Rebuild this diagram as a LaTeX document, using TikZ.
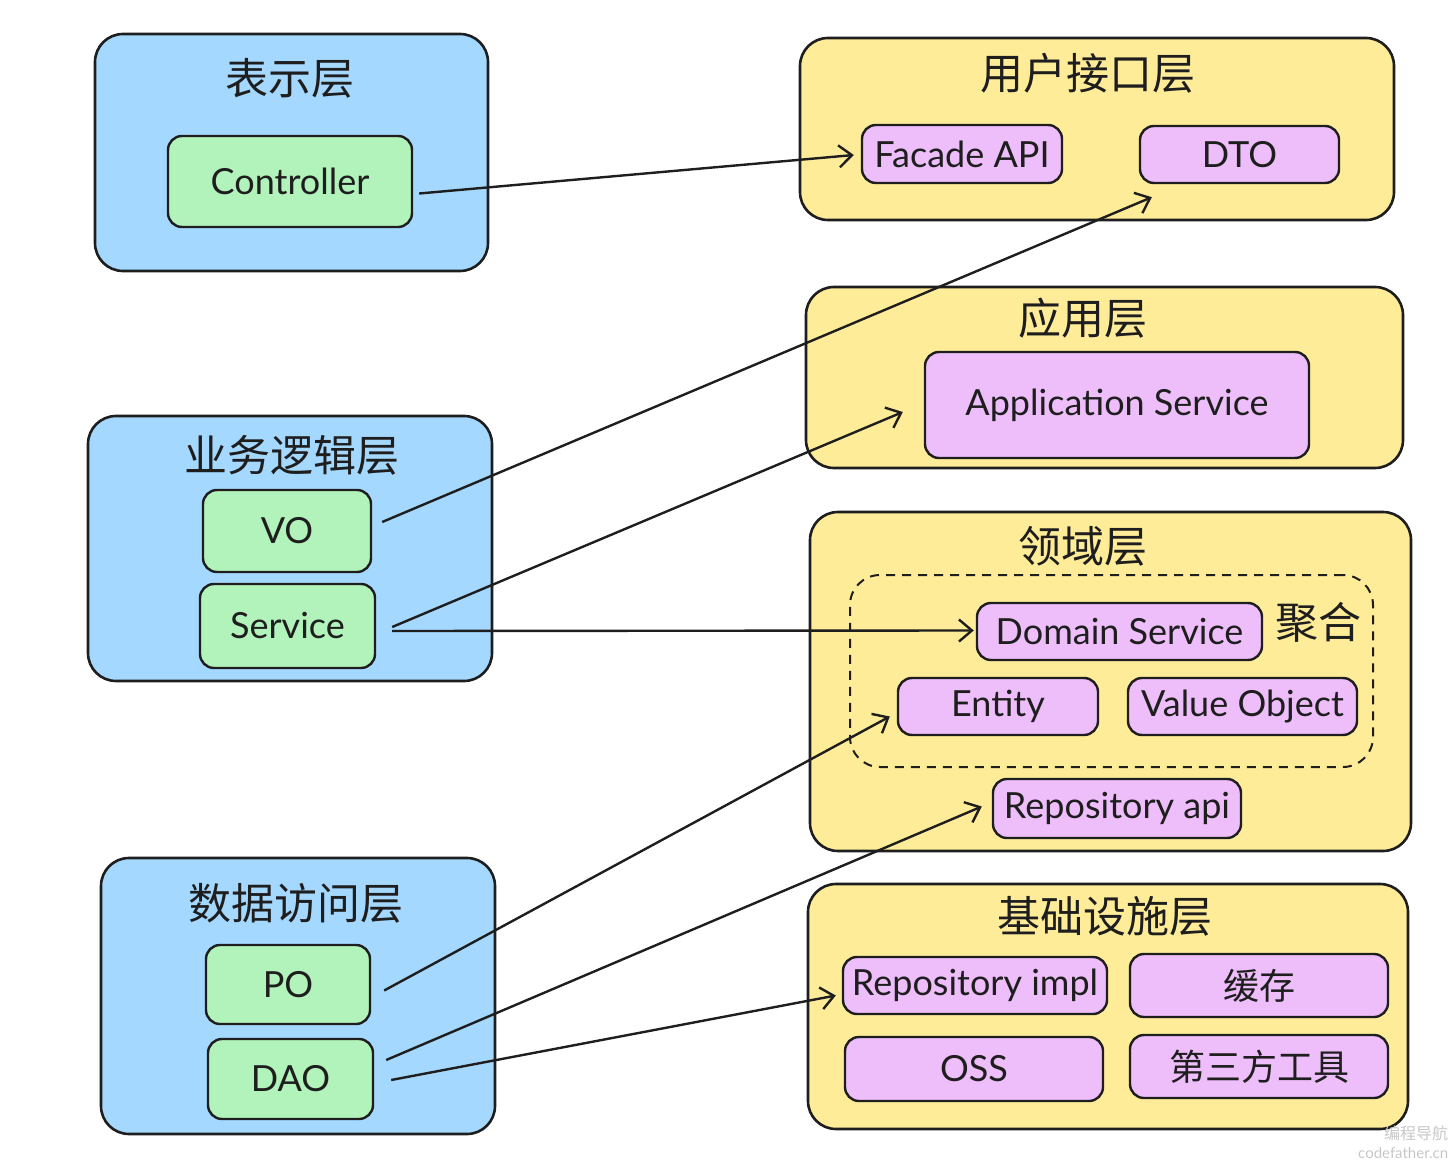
\documentclass[tikz,border=0pt]{standalone}
\usepackage{fontspec}
\setmainfont{Lato}
\newfontfamily\cjk{Noto Sans CJK SC}
\usetikzlibrary{arrows.meta,calc}
\definecolor{ink}{HTML}{1E1E1E}
\definecolor{lblue}{HTML}{A5D8FF}
\definecolor{lgreen}{HTML}{B2F2BB}
\definecolor{lyellow}{HTML}{FFEC99}
\definecolor{lpurple}{HTML}{EEBEFA}
\tikzset{
  cont/.style={draw=ink, line width=2.6pt, rounded corners=28pt, inner sep=0pt},
  bluebox/.style={cont, fill=lblue},
  yelbox/.style={cont, fill=lyellow},
  item/.style={draw=ink, line width=2.4pt, rounded corners=14pt, inner sep=0pt, text=ink, font=\fontsize{36}{40}\selectfont},
  greenitem/.style={item, fill=lgreen},
  purpitem/.style={item, fill=lpurple},
  cjkitem/.style={purpitem, font=\cjk\fontsize{36}{40}\selectfont},
  title/.style={text=ink, inner sep=0pt, font=\cjk\fontsize{43}{47}\selectfont},
  agg/.style={draw=ink, line width=2pt, dash pattern=on 9pt off 7pt, rounded corners=30pt},
  conn/.style={draw=ink, line width=2.4pt, -{Straight Barb[length=13pt,width=22pt,line width=2.4pt]}},
  wm/.style={text=black!22, inner sep=0pt, anchor=west}
}
\begin{document}
\begin{tikzpicture}[x=1pt,y=-1pt]
\useasboundingbox (0,0) rectangle (1452,1161);
% containers
\node[bluebox, minimum width=393pt, minimum height=237pt] (L1) at (291.5,152.5) {};
\node[bluebox, minimum width=404pt, minimum height=265pt] (L2) at (290,548.5) {};
\node[bluebox, minimum width=394pt, minimum height=276pt] (L3) at (298,996) {};
\node[yelbox, minimum width=594pt, minimum height=182pt] (R1) at (1097,129) {};
\node[yelbox, minimum width=597pt, minimum height=181pt] (R2) at (1104.5,377.5) {};
\node[yelbox, minimum width=601pt, minimum height=339pt] (R3) at (1110.5,681.5) {};
\node[yelbox, minimum width=600pt, minimum height=245pt] (R4) at (1108,1006.5) {};
\node[agg, minimum width=523pt, minimum height=192pt] (AGG) at (1111.5,671) {};
% titles
\node[title] (t1) at (290,78) {表示层};
\node[title] (t2) at (292,455) {业务逻辑层};
\node[title] (t3) at (296,903) {数据访问层};
\node[title] (t4) at (1088,73) {用户接口层};
\node[title] (t5) at (1083,318) {应用层};
\node[title] (t6) at (1083,546) {领域层};
\node[title] (t7) at (1105,916) {基础设施层};
\node[title] (t8) at (1318,622) {聚合};
% items
\node[greenitem, minimum width=244pt, minimum height=91pt] (ctrl) at (290,181.5) {Controller};
\node[greenitem, minimum width=168pt, minimum height=82pt] (vo) at (287,531) {VO};
\node[greenitem, minimum width=175pt, minimum height=84pt] (svc) at (287.5,626) {Service};
\node[greenitem, minimum width=164pt, minimum height=79pt] (po) at (288,984.5) {PO};
\node[greenitem, minimum width=165pt, minimum height=80pt] (dao) at (290.5,1079) {DAO};
\node[purpitem, minimum width=200pt, minimum height=58pt] (facade) at (962,154) {Facade API};
\node[purpitem, minimum width=199pt, minimum height=57pt] (dto) at (1239.5,154.5) {DTO};
\node[purpitem, minimum width=384pt, minimum height=106pt] (appsvc) at (1117,405) {Application Service};
\node[purpitem, minimum width=285pt, minimum height=57pt] (domsvc) at (1119.5,631.5) {Domain Service};
\node[purpitem, minimum width=200pt, minimum height=57pt] (entity) at (998,706.5) {Entity};
\node[purpitem, minimum width=229pt, minimum height=57pt] (vobj) at (1242.5,706.5) {Value Object};
\node[purpitem, minimum width=248pt, minimum height=59pt] (repoapi) at (1117,808.5) {Repository api};
\node[purpitem, minimum width=264pt, minimum height=57pt] (impl) at (975,985.5) {Repository impl};
\node[cjkitem, minimum width=258pt, minimum height=63pt] (cache) at (1259,985.5) {缓存};
\node[purpitem, minimum width=258pt, minimum height=64pt] (oss) at (974,1069) {OSS};
\node[cjkitem, minimum width=258pt, minimum height=63pt] (tools) at (1259,1066.5) {第三方工具};
% connectors
\draw[conn] ($(ctrl.east)+(6,12)$) -- ($(facade.west)+(-7,1)$);
\draw[conn] ($(vo.east)+(10,-9)$) -- ($(dto.south west)+(13,13)$);
\draw[conn] ($(svc.east)+(16,1)$) -- ($(appsvc.west)+(-21,7)$);
\draw[conn] ($(svc.east)+(16,5)$) -- ($(domsvc.west)+(-2,-1)$);
\draw[conn] ($(po.east)+(13,6)$) -- ($(entity.west)+(-7,10)$);
\draw[conn] ($(dao.east)+(12,-19)$) -- ($(repoapi.west)+(-10,-2)$);
\draw[conn] ($(dao.east)+(17,1)$) -- ($(impl.west)+(-6,10)$);
% watermark
\node[wm, font=\cjk\fontsize{16}{18}\selectfont] (wm1) at (1384,1133) {编程导航};
\node[wm, font=\fontsize{15}{17}\selectfont] (wm2) at (1358,1153) {codefather.cn};
\end{tikzpicture}
\end{document}
